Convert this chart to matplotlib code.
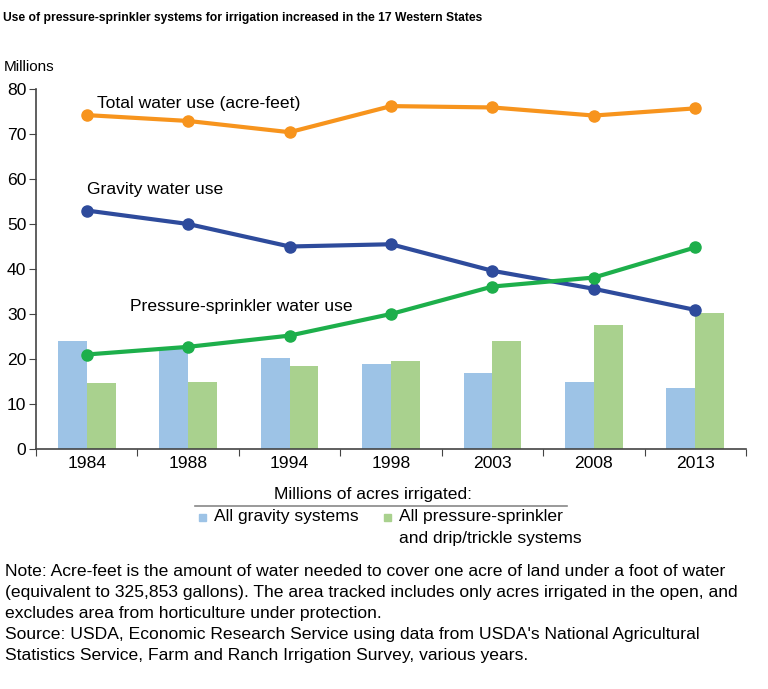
import matplotlib
matplotlib.use("Agg")
import matplotlib.pyplot as plt
import numpy as np
from matplotlib.lines import Line2D
from matplotlib.patches import Rectangle

plt.rcParams['font.family'] = ['Liberation Sans', 'DejaVu Sans']

years = ["1984", "1988", "1994", "1998", "2003", "2008", "2013"]
total_water = [74.2, 72.9, 70.4, 76.2, 75.9, 74.1, 75.7]
gravity_water = [53.0, 50.0, 45.0, 45.5, 39.6, 35.6, 30.9]
sprinkler_water = [21.0, 22.7, 25.2, 30.0, 36.1, 38.1, 44.8]
gravity_acres = [24.0, 22.3, 20.3, 19.0, 17.0, 15.0, 13.5]
sprinkler_acres = [14.6, 14.9, 18.4, 19.6, 24.1, 27.5, 30.2]

c_orange = "#F7941D"
c_blue = "#2E4B9C"
c_green = "#1DAF4B"
c_bar_blue = "#9DC3E6"
c_bar_green = "#A9D18E"
fs = 12.6

W, H = 768, 689
fig = plt.figure(figsize=(W / 100, H / 100), dpi=100)
ax = fig.add_axes([36 / W, 1 - 449 / H, 710 / W, 360 / H])

x = np.arange(len(years))
bw = 0.285
ax.bar(x - bw / 2, gravity_acres, bw, color=c_bar_blue, zorder=1)
ax.bar(x + bw / 2, sprinkler_acres, bw, color=c_bar_green, zorder=1)

for vals, col in [(total_water, c_orange), (gravity_water, c_blue), (sprinkler_water, c_green)]:
    ax.plot(x, vals, color=col, lw=3, marker="o", ms=8, zorder=3)

ax.text(0.10, 76.7, "Total water use (acre-feet)", fontsize=fs, va="center")
ax.text(0.0, 57.6, "Gravity water use", fontsize=fs, va="center")
ax.text(0.43, 31.6, "Pressure-sprinkler water use", fontsize=fs, va="center")

ax.set_xlim(-0.5, len(years) - 0.5)
ax.set_ylim(0, 80)
ax.set_yticks(range(0, 81, 10))
ax.set_xticks(np.arange(-0.5, len(years), 1.0))
ax.set_xticklabels([])
ax.set_xticks(x, minor=True)
ax.set_xticklabels(years, minor=True)
ax.tick_params(axis="x", which="minor", length=0, labelsize=fs, pad=5)
ax.tick_params(axis="x", which="major", length=5, direction="out", color="#444444")
ax.tick_params(axis="y", length=5, direction="out", labelsize=fs, pad=2, color="#444444")
for s in ["top", "right"]:
    ax.spines[s].set_visible(False)
for s in ["left", "bottom"]:
    ax.spines[s].set_color("#444444")
    ax.spines[s].set_linewidth(1.2)

fig.text(3 / W, 1 - 18 / H, "Use of pressure-sprinkler systems for irrigation increased in the 17 Western States",
         fontsize=8.7, fontweight="bold", va="center", ha="left")
fig.text(4 / W, 1 - 67 / H, "Millions", fontsize=11, va="center", ha="left")

# legend
fig.text(373 / W, 1 - 495 / H, "Millions of acres irrigated:", fontsize=fs, ha="center", va="center")
fig.add_artist(Line2D([195 / W, 567 / W], [1 - 506 / H, 1 - 506 / H], color="#888888", lw=1.2))
fig.add_artist(Rectangle((199 / W, 1 - 521 / H), 7 / W, 7 / H, color=c_bar_blue))
fig.text(214 / W, 1 - 517 / H, "All gravity systems", fontsize=fs, va="center")
fig.add_artist(Rectangle((384 / W, 1 - 521 / H), 7 / W, 7 / H, color=c_bar_green))
fig.text(399 / W, 1 - 517 / H, "All pressure-sprinkler", fontsize=fs, va="center")
fig.text(399 / W, 1 - 538 / H, "and drip/trickle systems", fontsize=fs, va="center")

note_lines = [
    "Note: Acre-feet is the amount of water needed to cover one acre of land under a foot of water",
    "(equivalent to 325,853 gallons). The area tracked includes only acres irrigated in the open, and",
    "excludes area from horticulture under protection.",
    "Source: USDA, Economic Research Service using data from USDA's National Agricultural",
    "Statistics Service, Farm and Ranch Irrigation Survey, various years.",
]
for i, line in enumerate(note_lines):
    fig.text(5 / W, 1 - (571 + 21.2 * i) / H, line, fontsize=fs, va="center", ha="left")

fig.savefig("out.png", dpi=100)
